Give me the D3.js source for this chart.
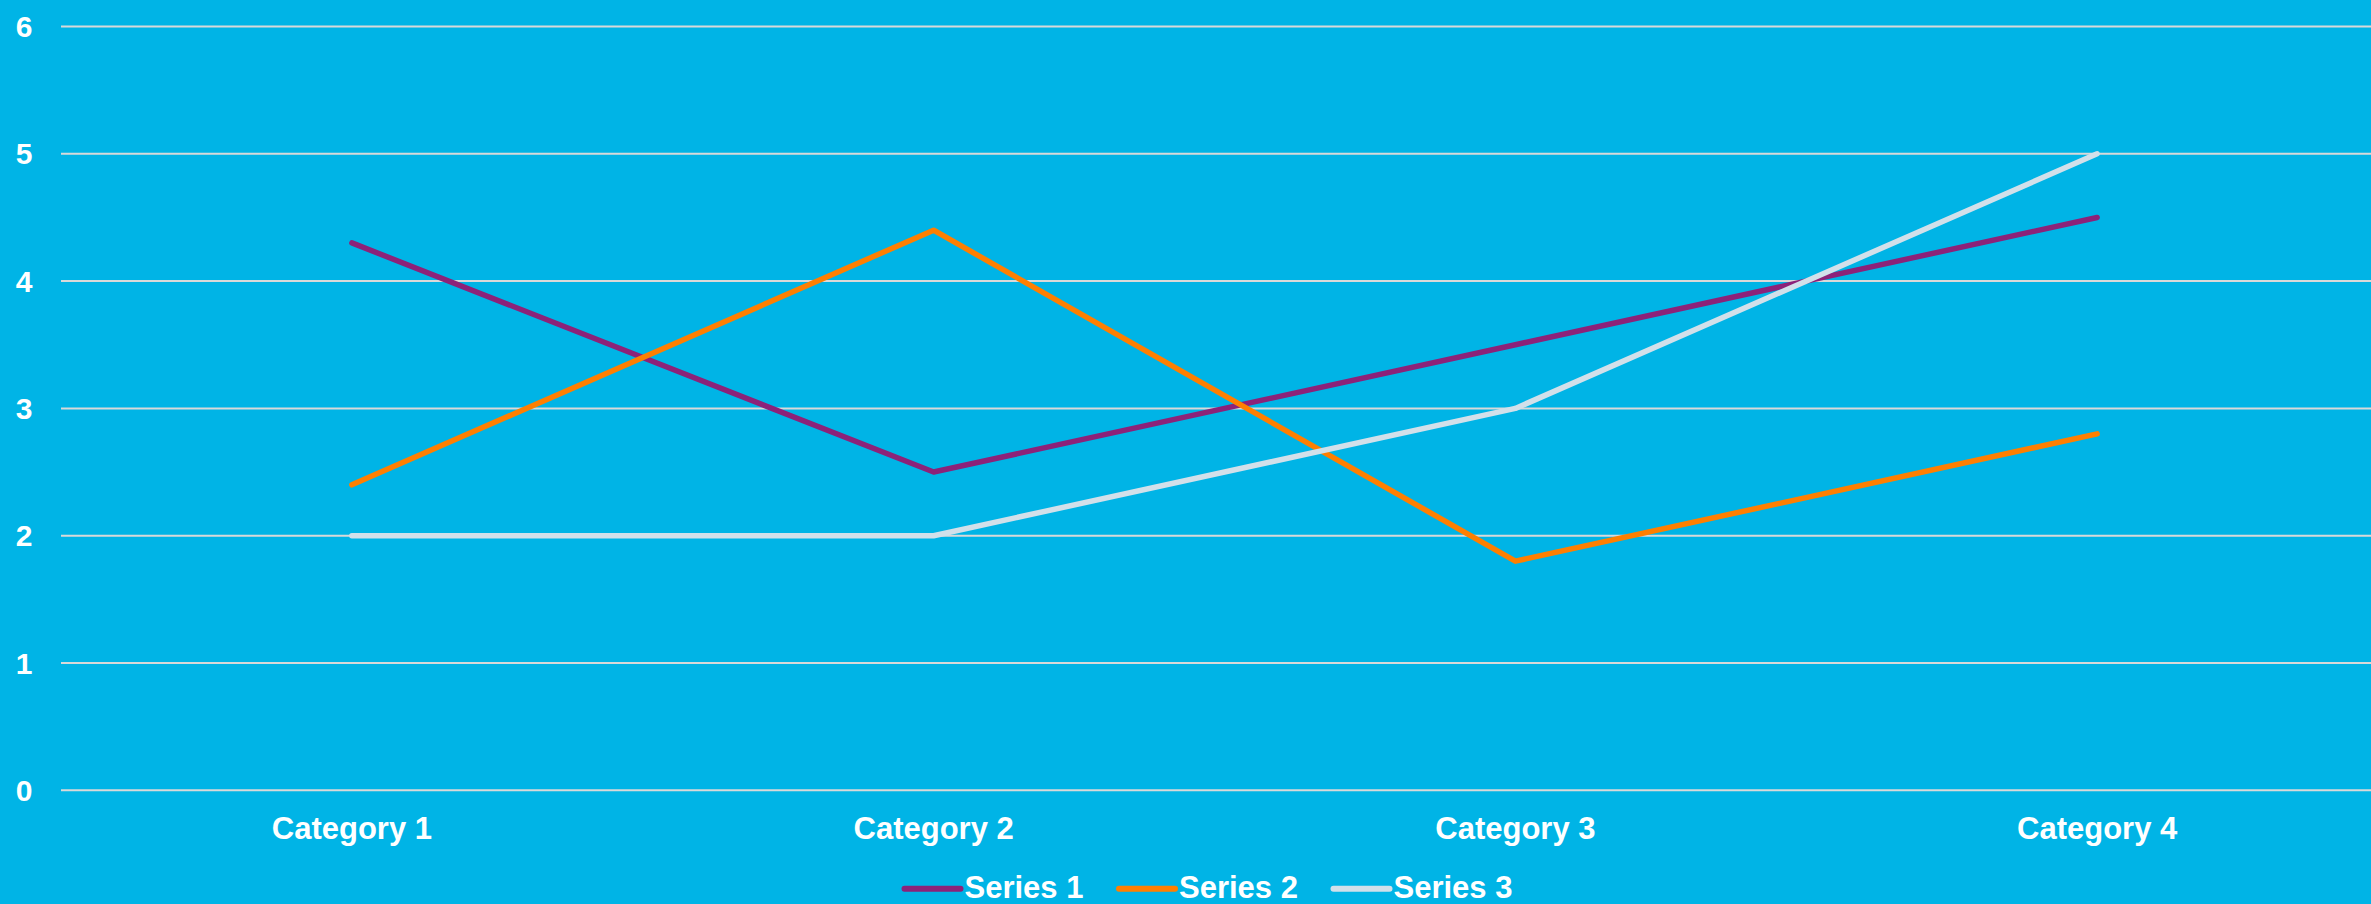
<!DOCTYPE html>
<html>
<head>
<meta charset="utf-8">
<script src="https://cdn.jsdelivr.net/npm/d3@7"></script>
<style>
  html, body { margin: 0; padding: 0; background: #00B4E6; overflow: hidden; }
  svg { display: block; }
  text { font-family: "Liberation Sans", Arial, sans-serif; font-weight: bold; fill: #ffffff; }
</style>
</head>
<body>
<svg id="chart" width="2371" height="904"></svg>
<script>
const categories = ["Category 1", "Category 2", "Category 3", "Category 4"];
const seriesNames = ["Series 1", "Series 2", "Series 3"];
const series1 = [4.3, 2.5, 3.5, 4.5];
const series2 = [2.4, 4.4, 1.8, 2.8];
const series3 = [2, 2, 3, 5];
const yTicks = [0, 1, 2, 3, 4, 5, 6];
const colors = ["#8C2279", "#FF7F00", "#D2E0EA"];

const allSeries = [series1, series2, series3];
const svg = d3.select("#chart");
const W = 2371, H = 904;
const plotLeft = 61, plotRight = 2388, plotTop = 26.5, plotBottom = 790.3;

svg.append("rect").attr("width", W).attr("height", H).attr("fill", "#00B4E6");

const x = d3.scaleBand().domain(categories).range([plotLeft, plotRight]);
const y = d3.scaleLinear().domain([0, 6]).range([plotBottom, plotTop]);

// gridlines
svg.append("g").selectAll("line").data(yTicks).join("line")
  .attr("x1", plotLeft).attr("x2", W)
  .attr("y1", d => y(d)).attr("y2", d => y(d))
  .attr("stroke", "#D9D9D9").attr("stroke-width", 2);

// y labels
svg.append("g").selectAll("text").data(yTicks).join("text")
  .attr("x", 24).attr("y", d => y(d))
  .attr("text-anchor", "middle").attr("dominant-baseline", "central")
  .style("font-size", "30px")
  .text(d => d);

// x labels
svg.append("g").selectAll("text").data(categories).join("text")
  .attr("x", d => x(d) + x.bandwidth() / 2).attr("y", 839)
  .attr("text-anchor", "middle")
  .style("font-size", "31px")
  .text(d => d);

// lines
const line = d3.line()
  .x((d, i) => x(categories[i]) + x.bandwidth() / 2)
  .y(d => y(d));

svg.append("g").selectAll("path").data(allSeries).join("path")
  .attr("d", d => line(d))
  .attr("fill", "none")
  .attr("stroke", (d, i) => colors[i])
  .attr("stroke-width", 5.5)
  .attr("stroke-linecap", "round")
  .attr("stroke-linejoin", "round");

// legend
const legendX = [904.5, 1119, 1333.5];
const legY = 888.7;
const leg = svg.append("g").selectAll("g").data(seriesNames).join("g")
  .attr("transform", (d, i) => `translate(${legendX[i]},${legY})`);
leg.append("line").attr("x1", 0).attr("x2", 56).attr("y1", 0).attr("y2", 0)
  .attr("stroke", (d, i) => colors[i]).attr("stroke-width", 6).attr("stroke-linecap", "round");
leg.append("text").attr("x", 60).attr("y", 9)
  .style("font-size", "31px")
  .text(d => d);
</script>
</body>
</html>
